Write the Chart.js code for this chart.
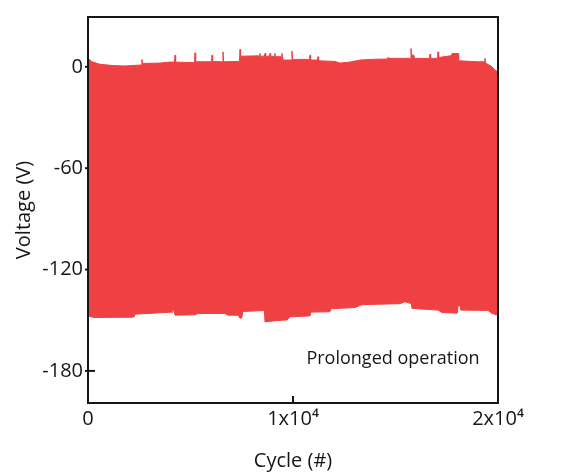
<!DOCTYPE html>
<html>
<head>
<meta charset="utf-8">
<script src="https://cdn.jsdelivr.net/npm/chart.js@4.4.1/dist/chart.umd.min.js"></script>
<style>
  html, body { margin: 0; padding: 0; background: #fff; }
  #wrap { width: 566px; height: 473px; }
</style>
</head>
<body>
<div id="wrap"><canvas id="voltage-chart"></canvas></div>
<script>
/* Data: top and bottom edge of the voltage band */
let upperCycles = [0, 195, 585, 1170, 1805, 2440, 2600, 2630, 2660, 3510, 4000, 4215, 4245, 4275, 4975, 5190, 5220, 5250, 5950, 6020, 6050, 6080, 6555, 6585, 6615, 7320, 7385, 7415, 7445, 8290, 8360, 8390, 8420, 8605, 8635, 8665, 8850, 8880, 8910, 9090, 9120, 9150, 9430, 9460, 9490, 9520, 9920, 9950, 9980, 10730, 10800, 10830, 10860, 11190, 11220, 11250, 12050, 12290, 12780, 13270, 14000, 14605, 14635, 14665, 15610, 15725, 15755, 15785, 15900, 15930, 16585, 16655, 16685, 16715, 17045, 17075, 17105, 17660, 17730, 17760, 18050, 18080, 19025, 19335, 19365, 19395, 19710, 19855, 20000]
let upperVolts = [5, 3, 1.5, 0.8, 0.5, 1, 1.1, 4.4, 2, 2.2, 2.8, 2.8, 6.9, 2.8, 2.5, 2.6, 8.3, 3, 3, 3, 6.9, 3.2, 3, 8.9, 3, 3.2, 3.2, 10.3, 6.3, 6.5, 6.4, 8, 6.3, 6.3, 8, 6.3, 6.3, 8, 6.3, 6.2, 8, 6, 6, 8, 6, 4, 4, 9.3, 4.4, 4.4, 4.4, 6.9, 4, 4, 6, 3.6, 3.2, 2.2, 2.8, 4, 4.5, 4.6, 5.5, 5, 5, 5, 10.9, 6.9, 6.9, 5, 5, 5, 7.5, 5, 5, 8.9, 5.5, 6.5, 6.5, 7.9, 7.9, 3.6, 3, 3, 5, 2.2, 0, -2, -3]

let lowerCycles = [0, 340, 2145, 2250, 2295, 2925, 3510, 4100, 4145, 4200, 4245, 5220, 5365, 6680, 6830, 7320, 7415, 7500, 7560, 8535, 8605, 8635, 9120, 9705, 9855, 10730, 10830, 10880, 11710, 11800, 11855, 13025, 13365, 14245, 15220, 15465, 15710, 15770, 15805, 17075, 17270, 18000, 18030, 18050, 18150, 18195, 19510, 19710, 20000]
let lowerVolts = [-147.6, -148.4, -148.2, -148, -146.4, -146, -145.6, -145.2, -144, -144, -147, -146.8, -146, -146, -147, -147, -148.8, -148.6, -144.8, -144.3, -144.3, -151, -150.3, -149.8, -148, -147.5, -147.4, -145.2, -145, -145, -143.2, -142.5, -140.8, -140.5, -140.2, -139, -140, -140, -143, -144, -145.5, -145.8, -145.8, -141.5, -141.5, -144, -144.2, -146, -147]

let xTicks = [0, 10000, 20000]
let xTickLabels = ['0', '1x10\u2074', '2x10\u2074']
let yTicks = [-180, -120, -60, 0]

let bandColor = '#ef4143'
let inkColor = '#161616'
let fontFamily = "'Open Sans', 'Liberation Sans', sans-serif"

function toPoints(xs, ys) {
    return xs.map(function(x, i) { return { x: x, y: ys[i] } })
}

/* Ticks point into the plot, drawn under the band; frame drawn on top */
let framePlugin = {
    id: 'frame',
    beforeDatasetsDraw: function(chart) {
        let ctx = chart.ctx
        let area = chart.chartArea
        ctx.save()
        ctx.strokeStyle = inkColor
        ctx.lineWidth = 2
        chart.scales.y.ticks.forEach(function(t) {
            let py = chart.scales.y.getPixelForValue(t.value)
            ctx.beginPath()
            ctx.moveTo(area.left - 3, py)
            ctx.lineTo(area.left + 7, py)
            ctx.stroke()
        })
        chart.scales.x.ticks.forEach(function(t) {
            let px = chart.scales.x.getPixelForValue(t.value)
            ctx.beginPath()
            ctx.moveTo(px, area.bottom)
            ctx.lineTo(px, area.bottom - 7)
            ctx.stroke()
        })
        ctx.restore()
    },
    afterDatasetsDraw: function(chart) {
        let ctx = chart.ctx
        let area = chart.chartArea
        ctx.save()
        ctx.strokeStyle = inkColor
        ctx.lineWidth = 2
        ctx.strokeRect(area.left, area.top, area.right - area.left, area.bottom - area.top)
        // annotation text
        ctx.fillStyle = inkColor
        ctx.font = '18px ' + fontFamily
        ctx.textAlign = 'center'
        ctx.textBaseline = 'middle'
        ctx.fillText('Prolonged operation', 393, 359)
        ctx.restore()
    }
}

let ctx = document.querySelector('#voltage-chart').getContext('2d')

let voltageChart = new Chart(ctx, {
    type: 'line',
    data: {
        datasets: [
            {
                data: toPoints(upperCycles, upperVolts),
                borderColor: bandColor,
                backgroundColor: bandColor,
                borderWidth: 1,
                pointRadius: 0,
                fill: '+1'
            },
            {
                data: toPoints(lowerCycles, lowerVolts),
                borderColor: bandColor,
                backgroundColor: bandColor,
                borderWidth: 1,
                pointRadius: 0,
                fill: false
            }
        ]
    },
    options: {
        responsive: true,
        maintainAspectRatio: false,
        animation: false,
        layout: { padding: { top: 17, right: 68, left: 0, bottom: 0 } },
        plugins: {
            legend: { display: false },
            tooltip: { enabled: false }
        },
        scales: {
            x: {
                type: 'linear',
                min: 0,
                max: 20000,
                grid: { display: false, tickLength: 0 },
                border: { display: false },
                afterBuildTicks: function(scale) {
                    scale.ticks = xTicks.map(function(v) { return { value: v } })
                },
                afterFit: function(scale) { scale.height = 70 },
                ticks: {
                    color: inkColor,
                    font: { family: fontFamily, size: 20 },
                    padding: 4,
                    maxRotation: 0,
                    callback: function(value) { return xTickLabels[xTicks.indexOf(value)] }
                },
                title: {
                    display: true,
                    text: 'Cycle (#)',
                    color: inkColor,
                    font: { family: fontFamily, size: 20 },
                    padding: { top: 0, bottom: 0 }
                }
            },
            y: {
                type: 'linear',
                min: -199,
                max: 29.5,
                grid: { display: false, tickLength: 0 },
                border: { display: false },
                afterBuildTicks: function(scale) {
                    scale.ticks = yTicks.map(function(v) { return { value: v } })
                },
                afterFit: function(scale) { scale.width = 88 },
                ticks: {
                    color: inkColor,
                    font: { family: fontFamily, size: 20 },
                    padding: 5
                },
                title: {
                    display: true,
                    text: 'Voltage (V)',
                    color: inkColor,
                    font: { family: fontFamily, size: 20 },
                    padding: { top: 12, bottom: 0 }
                }
            }
        }
    },
    plugins: [framePlugin]
})
</script>
</body>
</html>
